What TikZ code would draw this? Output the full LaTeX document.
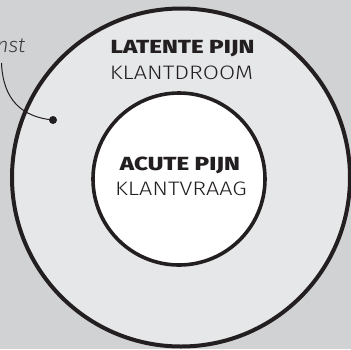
\documentclass[tikz,border=0pt]{standalone}
\usepackage{fontspec}
\setmainfont{Fira Sans}
\newfontfamily\lightfont[FakeStretch=1.2]{Fira Sans Light}
\newfontfamily\heavyfont[FakeStretch=1.27]{Fira Sans ExtraBold}
\newfontfamily\notefont{Fira Sans Light}
\definecolor{bggray}{HTML}{D1D2D4}
\definecolor{ringgray}{HTML}{E6E7E8}
\definecolor{inkblack}{HTML}{231F20}
\definecolor{notegray}{HTML}{3A3A3C}
\begin{document}
\begin{tikzpicture}[x=1pt,y=-1pt,
  ring/.style={circle,draw=inkblack,line width=4pt,inner sep=0pt},
  titletext/.style={font=\heavyfont\fontsize{19}{20}\selectfont,text=inkblack},
  subtext/.style={font=\lightfont\fontsize{19.5}{20}\selectfont,text=inkblack},
  notetext/.style={font=\notefont\itshape\fontsize{21}{22}\selectfont,text=notegray},
  dotmark/.style={circle,fill=inkblack,inner sep=0pt,minimum size=8pt}]
\fill[bggray] (0,0) rectangle (351,349);
\useasboundingbox (0,0) rectangle (351,349);
\node[ring,fill=ringgray,minimum size=338pt] (outer) at (181,177.5) {};
\node[ring,fill=white,line width=3.6pt,minimum size=172pt] (inner) at (179,179) {};
\node[titletext,anchor=base] (lat) at (182.5,53) {LATENTE PIJN};
\node[subtext,anchor=base] (kd) at (181.5,79.5) {KLANTDROOM};
\node[titletext,anchor=base] (acu) at (180,170) {ACUTE PIJN};
\node[subtext,anchor=base] (kv) at (181,195) {KLANTVRAAG};
\node[notetext,anchor=base east,inner sep=0pt] (note) at (25.5,52) {nst};
\coordinate (start) at (1.5,63);
\node[dotmark] (dot) at (53,120) {};
\draw[inkblack,line width=1pt] (start) .. controls (3,100) and (22,117) .. (dot.center);
\end{tikzpicture}
\end{document}
